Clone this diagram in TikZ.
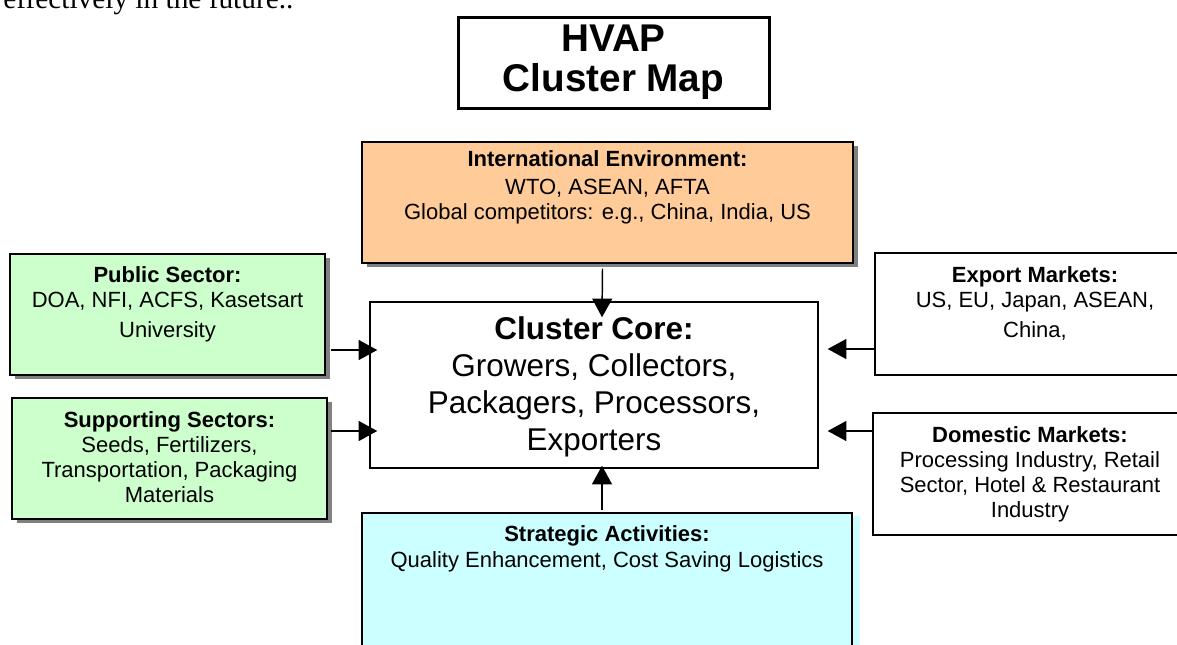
\documentclass[tikz,border=0pt]{standalone}
\usepackage{fontspec}
\setmainfont{Liberation Sans}
\newfontfamily\timesfont{Liberation Serif}
\usetikzlibrary{arrows.meta,fit,shadows,positioning}

\definecolor{peach}{HTML}{FFCC99}
\definecolor{mint}{HTML}{CCFFCC}
\definecolor{aqua}{HTML}{CCFFFF}
\definecolor{shadowgray}{HTML}{808080}

\tikzset{
  box/.style={draw=black, line width=1.1pt, inner sep=0pt},
  shadowbox/.style={box, drop shadow={shadow xshift=3.75pt, shadow yshift=-3pt, fill=shadowgray, opacity=1}},
  txt/.style={align=center, inner sep=0pt, font=\fontsize{16.5}{18.75}\selectfont},
  arr/.style={-{Triangle[length=14pt,width=15pt]}, line width=1.1pt},
}

\begin{document}
\begin{tikzpicture}[x=0.75pt,y=-0.75pt]
\useasboundingbox (0,0) rectangle (1177,644);
\clip (0,0) rectangle (1177,644);

% ligne de texte coupee en haut
\node[anchor=base west, inner sep=0pt, font=\timesfont\fontsize{22}{26}\selectfont] (intro) at (3,8) {effectively in the future..};

% titre
\node[box, line width=2.25pt, fit={(458,17) (769,108)}] (title) {};
\node[txt, below=6.75pt of title.north, font=\bfseries\fontsize{29}{30}\selectfont] (title-txt) {HVAP\\Cluster Map};

% boites
\node[shadowbox, fill=peach, fit={(362,142) (853,263)}] (intl) {};
\node[txt, below=6.75pt of intl.north] (intl-txt) {\textbf{International Environment:}\\[2pt]WTO, ASEAN, AFTA\\Global competitors: e.g., China, India, US};

\node[shadowbox, fill=mint, fit={(10,254) (325,375)}] (pub) {};
\node[txt, below=9.75pt of pub.north] (pub-txt) {\textbf{Public Sector:}\\DOA, NFI, ACFS, Kasetsart\\[3.75pt]University};

\node[shadowbox, fill=mint, fit={(12,398) (327,519)}] (sup) {};
\node[txt, below=10.5pt of sup.north] (sup-txt) {\textbf{Supporting Sectors:}\\Seeds, Fertilizers,\\Transportation, Packaging\\Materials};

\node[box, fit={(370,302) (818,468)}] (core) {};
\node[txt, below=11.25pt of core.north, font=\fontsize{23.6}{27.75}\selectfont] (core-txt) {\textbf{Cluster Core:}\\Growers, Collectors,\\Packagers, Processors,\\Exporters};

\node[box, fill=white, fit={(875,253) (1195,375)}] (exp) {};
\node[txt, below=10.5pt of exp.north] (exp-txt) {\textbf{Export Markets:}\\US, EU, Japan, ASEAN,\\[3.75pt]China,};

\node[box, fill=white, fit={(873,413) (1187,535)}] (dom) {};
\node[txt, below=10.5pt of dom.north] (dom-txt) {\textbf{Domestic Markets:}\\Processing Industry, Retail\\Sector, Hotel \& Restaurant\\Industry};

\node[box, fill=aqua, drop shadow={shadow xshift=6pt, shadow yshift=-2pt, fill=aqua, opacity=1}, fit={(362,513) (852,670)}] (strat) {};
\node[txt, below=9.75pt of strat.north] (strat-txt) {\textbf{Strategic Activities:}\\[1pt]Quality Enhancement, Cost Saving Logistics};

% fleches
\draw[arr] ([shift={(-5,5)}]intl.south) -- ([shift={(8,16)}]core.north);
\draw[arr] ([shift={(5,35.5)}]pub.east) -- ([shift={(8,-35)}]core.west);
\draw[arr] ([shift={(3,-27.5)}]sup.east) -- ([shift={(8,46)}]core.west);
\draw[arr] ([shift={(0,35)}]exp.west) -- ([shift={(9,-36)}]core.east);
\draw[arr] ([shift={(0,-43)}]dom.west) -- ([shift={(9,46)}]core.east);
\draw[arr] ([shift={(-5,-2)}]strat.north) -- ([shift={(8,-3)}]core.south);
\end{tikzpicture}
\end{document}
